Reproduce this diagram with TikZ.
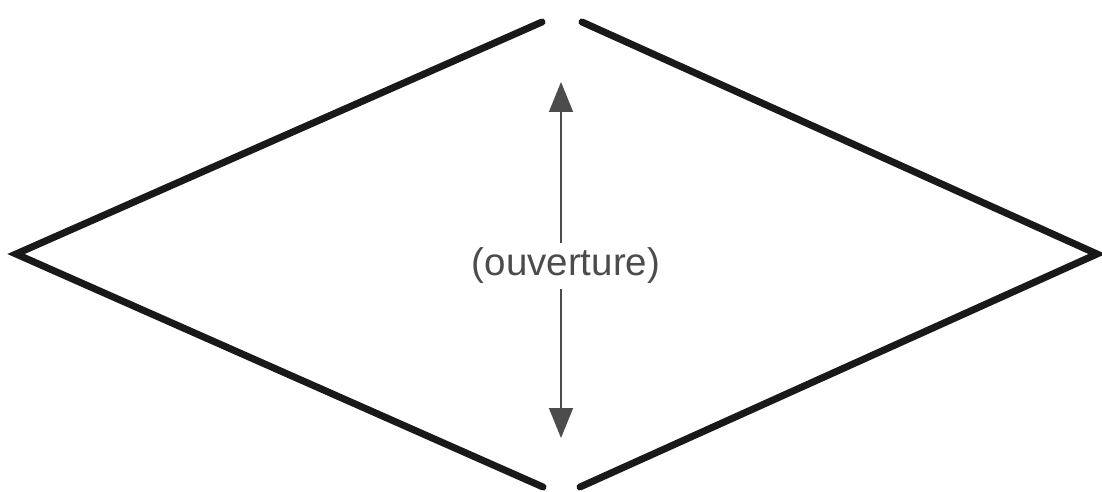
\documentclass[tikz,border=0pt]{standalone}
\usepackage{fontspec}
\setmainfont{Liberation Sans}
\usetikzlibrary{arrows.meta}
\begin{document}
\begin{tikzpicture}[x=1pt,y=-1pt,
  edge/.style={line width=7pt,line cap=round,line join=miter,black!90},
  arr/.style={line width=1.6pt,black!70,-{Triangle[length=30pt,width=24pt]}},
  lbl/.style={font=\fontsize{38.5}{42}\selectfont,text=black!70,fill=white,inner sep=5pt}]
\useasboundingbox (0,0) rectangle (1102,492);
\coordinate (L) at (16,254);
\coordinate (R) at (1097,254);
\coordinate (TL) at (542,22);
\coordinate (TR) at (582,22);
\coordinate (BL) at (543,487);
\coordinate (BR) at (580,487);
\draw[edge] (TL) -- (L) -- (BL);
\draw[edge] (TR) -- (R) -- (BR);
\node[lbl] (t) at (566,266) {(ouverture)};
\coordinate (up) at (561,82);
\coordinate (dn) at (561,438);
\draw[arr] (t.north -| up) -- (up);
\draw[arr] (t.south -| dn) -- (dn);
\end{tikzpicture}
\end{document}
